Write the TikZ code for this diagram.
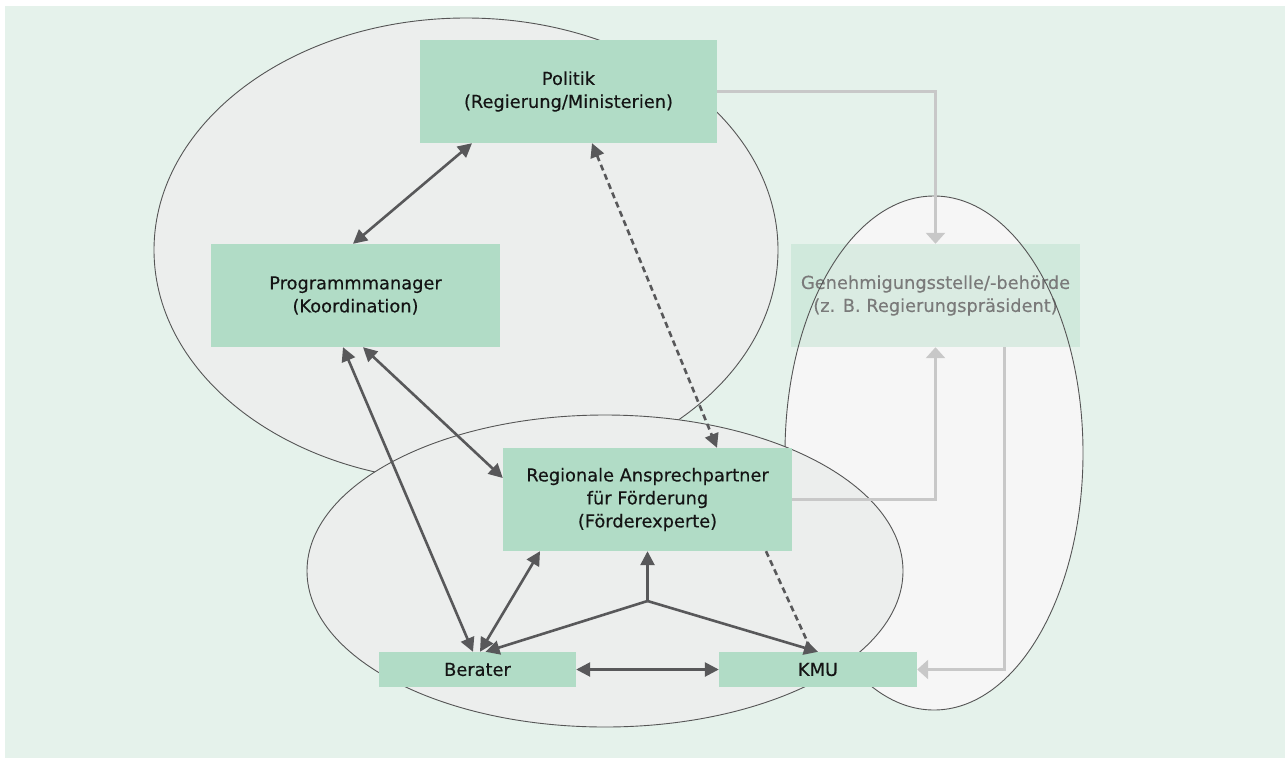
\documentclass[tikz,border=0pt]{standalone}
\usepackage{fontspec}
\setmainfont{DejaVu Sans}
\newfontfamily\boxfont{DejaVu Sans}[FakeBold=0.35]
\usetikzlibrary{arrows.meta,calc}
\definecolor{bggreen}{HTML}{E5F2EB}
\definecolor{boxgreen}{HTML}{B1DCC6}
\definecolor{ellgray}{HTML}{ECEEED}
\definecolor{ellright}{HTML}{F6F6F6}
\definecolor{ellline}{HTML}{555555}
\definecolor{darkarrow}{HTML}{58585A}
\definecolor{lightarrow}{HTML}{C8C8C8}
\definecolor{txt}{HTML}{141414}
\definecolor{fadetxt}{HTML}{7A7A7A}
\tikzset{
  box/.style={fill=boxgreen, draw=none, inner sep=0pt, align=center, text=txt,
    font=\boxfont\fontsize{17.8}{23}\selectfont},
  ell/.style={draw=ellline, line width=0.9pt},
  darkcon/.style={draw=darkarrow, line width=2.6pt, {Triangle[length=14pt,width=14pt]}-{Triangle[length=14pt,width=14pt]}},
  darkone/.style={draw=darkarrow, line width=2.6pt, -{Triangle[length=14pt,width=14pt]}},
  dashcon/.style={draw=darkarrow, line width=2.6pt, dash pattern=on 6pt off 4pt},
  graycon/.style={draw=lightarrow, line width=3pt, -{Triangle[length=11pt,width=19pt]}}
}
\begin{document}
\begin{tikzpicture}[x=1pt,y=-1pt]
\useasboundingbox (0,0) rectangle (1285,758);
\fill[bggreen] (5,6) rectangle (1285,758);
% ellipses
\fill[ellgray] (466,250) ellipse [x radius=312, y radius=232];
\draw[ell] (466,250) ellipse [x radius=312, y radius=232];
\fill[ellright] (934,453) ellipse [x radius=149, y radius=257];
\node[box, minimum width=289pt, minimum height=103pt, fill opacity=0.4, text opacity=1, text=fadetxt] (gen) at (935.5,295.5)
  {Genehmigungsstelle/-behörde\\(z. B. Regierungspräsident)};
\draw[ell] (934,453) ellipse [x radius=149, y radius=257];
\fill[ellgray] (605,571) ellipse [x radius=298, y radius=156];
\draw[ell] (605,571) ellipse [x radius=298, y radius=156];
% boxes
\node[box, minimum width=297pt, minimum height=103pt] (pol) at (568.5,91.5)
  {Politik\\(Regierung/Ministerien)};
\node[box, minimum width=289pt, minimum height=103pt] (prog) at (355.5,295.5)
  {Programmmanager\\(Koordination)};
\node[box, minimum width=289pt, minimum height=103pt] (reg) at (647.5,499.5)
  {Regionale Ansprechpartner\\für Förderung\\(Förderexperte)};
\node[box, minimum width=197pt, minimum height=35pt] (ber) at (477.5,669.5) {Berater};
\node[box, minimum width=198pt, minimum height=35pt] (kmu) at (818,669.5) {KMU};
\coordinate (J) at (647.5,601);
% gray connectors
\draw[graycon] (pol.east) -| (gen.north);
\draw[graycon] (reg.east) -| (gen.south);
\draw[graycon] ([xshift=68.5pt]gen.south) |- (kmu.east);
% dark connectors
\draw[darkcon] ([xshift=-96.5pt]pol.south) -- ([xshift=-2.5pt]prog.north);
\draw[dashcon, {Triangle[length=14pt,width=14pt]}-{Triangle[length=14pt,width=14pt]}] ([xshift=23.5pt]pol.south) -- ([xshift=69.5pt]reg.north);
\draw[darkcon] ([xshift=-12.5pt]prog.south) -- ([xshift=-4.5pt]ber.north);
\draw[darkcon] ([xshift=7.5pt]prog.south) -- ([yshift=21.5pt]reg.west);
\draw[darkcon] ([xshift=2.5pt]ber.north) -- ([xshift=-107.5pt]reg.south);
\draw[dashcon, shorten >=6pt] ([xshift=118.5pt]reg.south) -- ([xshift=-6pt]kmu.north);
\draw[darkone] (J) -- (reg.south);
\draw[darkone] (J) -- ([xshift=8pt]ber.north);
\draw[darkone] (J) -- (kmu.north);
\draw[darkcon] (ber.east) -- (kmu.west);
\end{tikzpicture}
\end{document}
